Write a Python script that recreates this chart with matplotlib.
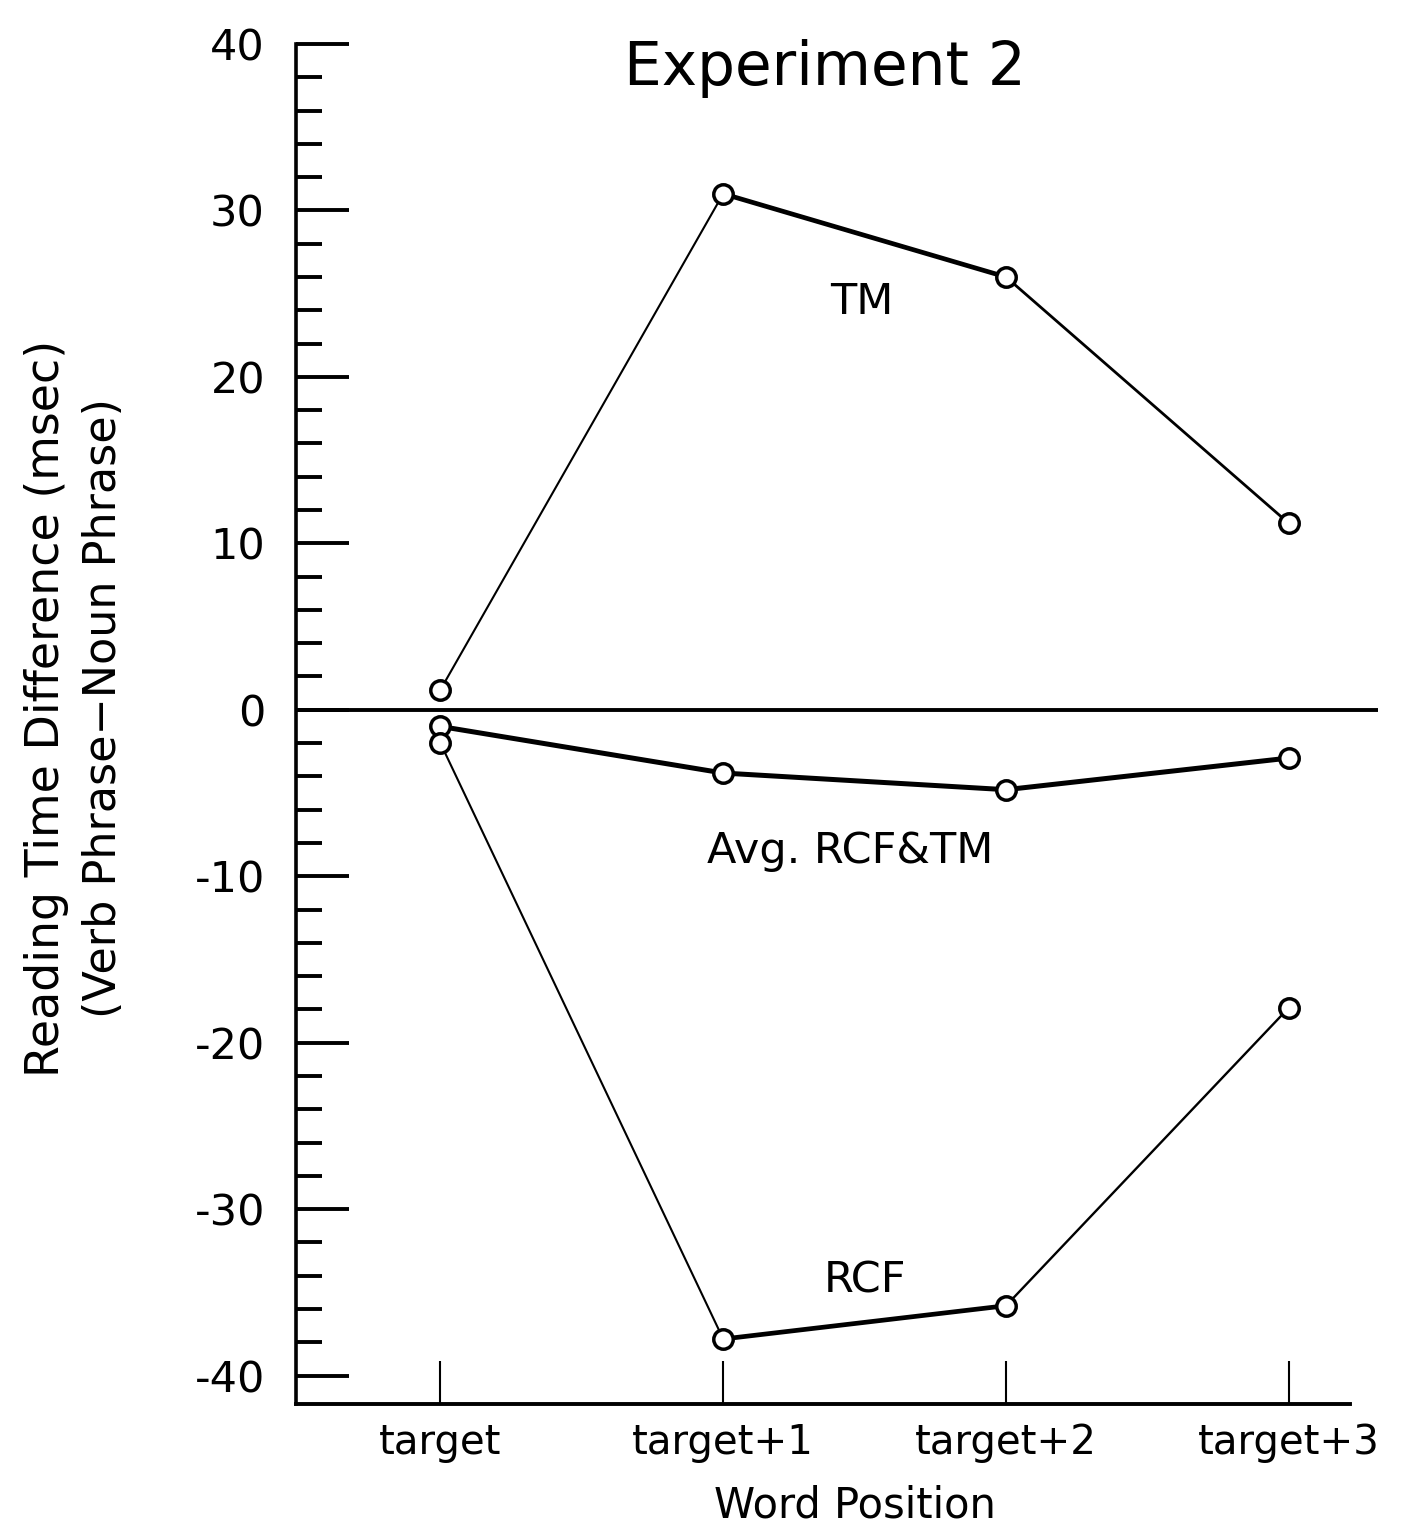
import matplotlib.pyplot as plt
from matplotlib.ticker import MultipleLocator

# 数据
positions = ['target', 'target+1', 'target+2', 'target+3']
tm = [1.2, 31.0, 26.0, 11.2]
avg_rcf_tm = [-1.0, -3.8, -4.8, -2.9]
rcf = [-2.0, -37.8, -35.8, -17.9]

# 每段线宽（参照原图中的粗细）
tm_widths = [1.5, 3.4, 2.0]
avg_widths = [3.6, 3.6, 3.6]
rcf_widths = [1.5, 3.4, 1.7]


def plot_series(ax, x, y, widths):
    """逐段画折线，再画空心圆点"""
    for i in range(len(x) - 1):
        ax.plot(x[i:i + 2], y[i:i + 2], color='black', linewidth=widths[i],
                solid_capstyle='round', zorder=3)
    ax.plot(x, y, linestyle='none', marker='o', markersize=14,
            markerfacecolor='white', markeredgecolor='black',
            markeredgewidth=2.5, zorder=4)


def main():
    fig = plt.figure(figsize=(14.01, 15.31), dpi=100)
    ax = fig.add_axes([0.211, 0.083, 0.7727, 0.8883])

    x = list(range(len(positions)))
    plot_series(ax, x, tm, tm_widths)
    plot_series(ax, x, avg_rcf_tm, avg_widths)
    plot_series(ax, x, rcf, rcf_widths)

    ax.axhline(0, color='black', linewidth=2.8, zorder=2)

    ax.set_xlim(-0.512, 3.316)
    ax.set_ylim(-41.7, 40)

    # 坐标轴
    for s in ['top', 'right']:
        ax.spines[s].set_visible(False)
    ax.spines['left'].set_linewidth(2.6)
    ax.spines['bottom'].set_linewidth(2.8)
    ax.spines['left'].set_bounds(-41.7, 40)
    ax.spines['bottom'].set_bounds(-0.512, 3.216)

    ax.yaxis.set_major_locator(MultipleLocator(10))
    ax.yaxis.set_minor_locator(MultipleLocator(2))
    ax.tick_params(axis='y', which='major', direction='in', length=38, width=2.8,
                   labelsize=31, pad=22)
    ax.tick_params(axis='y', which='minor', direction='in', length=19, width=2.8)
    ax.set_yticks([-40, -30, -20, -10, 0, 10, 20, 30, 40])
    ax.set_yticklabels(['-40', '-30', '-20', '-10', '0', '10', '20', '30', '40'])

    ax.set_xticks(x)
    ax.set_xticklabels(positions)
    ax.tick_params(axis='x', direction='in', length=31, width=1.5,
                   labelsize=29, pad=14)

    # 文字
    fig.text(825 / 1401, 1 - 68 / 1531, 'Experiment 2', fontsize=43,
             ha='center', va='center')
    ax.text(1.49, 24.5, 'TM', fontsize=31, ha='center', va='center')
    ax.text(1.45, -8.5, 'Avg. RCF&TM', fontsize=31, ha='center', va='center')
    ax.text(1.50, -34.3, 'RCF', fontsize=31, ha='center', va='center')

    fig.text(855 / 1401, 1 - 1505 / 1531, 'Word Position', fontsize=30,
             ha='center', va='center')
    fig.text(47 / 1401, 1 - 708 / 1531, 'Reading Time Difference (msec)',
             fontsize=33, rotation=90, ha='center', va='center')
    fig.text(104 / 1401, 1 - 708 / 1531, '(Verb Phrase\u2212Noun Phrase)',
             fontsize=32, rotation=90, ha='center', va='center', fontweight='medium')

    fig.savefig('out.png', dpi=100)


if __name__ == '__main__':
    main()
